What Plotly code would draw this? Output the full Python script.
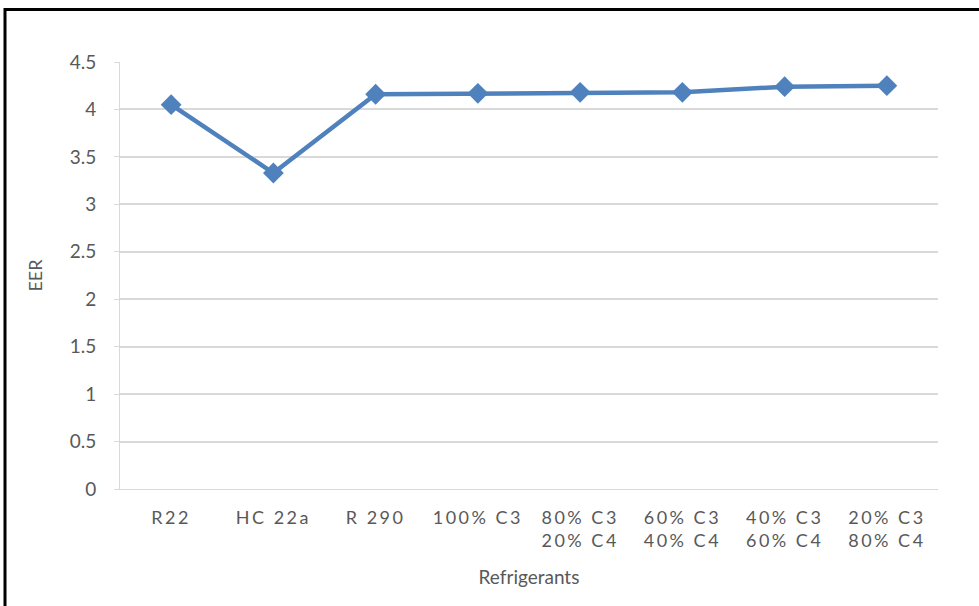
import plotly.graph_objects as go

categories = ["R22", "HC 22a", "R 290", "100% C3", "80% C3<br>20% C4",
              "60% C3<br>40% C4", "40% C3<br>60% C4", "20% C3<br>80% C4"]
eer = [4.05, 3.33, 4.16, 4.17, 4.18, 4.18, 4.24, 4.25]
y_ticks = [0, 0.5, 1, 1.5, 2, 2.5, 3, 3.5, 4, 4.5]
y_tick_labels = ["0", "0.5", "1", "1.5", "2", "2.5", "3", "3.5", "4", "4.5"]

FONT = "Lato"
GRAY = "#595959"

fig = go.Figure()
fig.add_trace(go.Scatter(
    x=list(range(len(categories))), y=eer, mode="lines+markers",
    line=dict(color="#4F81BD", width=4.5),
    marker=dict(symbol="diamond", size=16, color="#4F81BD"),
    showlegend=False,
))

W, H = 979, 606
L, R, T, B = 120, 41, 62, 117
pw, ph = W - L - R, H - T - B

fig.update_layout(
    width=W, height=H,
    margin=dict(l=L, r=R, t=T, b=B, pad=0),
    paper_bgcolor="white", plot_bgcolor="white",
    font=dict(family=FONT, size=17, color=GRAY),
    xaxis=dict(
        tickmode="array", tickvals=list(range(len(categories))), ticktext=categories,
        range=[-0.5, len(categories) - 0.5],
        showgrid=False, zeroline=False,
        showline=True, linecolor="#D9D9D9", linewidth=1,
        ticks="", ticklabelstandoff=12,
        tickfont=dict(family=FONT, size=18, color=GRAY),
        title=dict(text="Refrigerants", font=dict(family=FONT, size=19, color=GRAY), standoff=20),
    ),
    yaxis=dict(
        tickmode="array", tickvals=y_ticks, ticktext=y_tick_labels,
        range=[0, 4.5],
        showgrid=True, gridcolor="#D9D9D9", gridwidth=1.5,
        zeroline=False,
        showline=True, linecolor="#D9D9D9", linewidth=1,
        ticks="outside", ticklen=5, tickcolor="#D9D9D9",
        ticklabelstandoff=14,
        tickfont=dict(family=FONT, size=19, color=GRAY),
        title=dict(text="EER", font=dict(family=FONT, size=18, color=GRAY), standoff=22),
    ),
)

# outer black frame (left ~x=5, top ~y=9.5; right/bottom beyond the view)
fig.add_shape(
    type="rect", xref="paper", yref="paper",
    x0=(5 - L) / pw, x1=(W + 20 - L) / pw,
    y0=-(B + 20) / ph, y1=(H - B - 9.5) / ph,
    line=dict(color="black", width=3), fillcolor="rgba(0,0,0,0)", layer="above",
)

post = (
    "document.body.style.margin='0';"
    "var s=document.createElement('style');"
    "s.textContent='.xtick text{letter-spacing:2.5px}';"
    "document.head.appendChild(s);"
)
fig.write_html("out.html", post_script=post, config={"displayModeBar": False})
